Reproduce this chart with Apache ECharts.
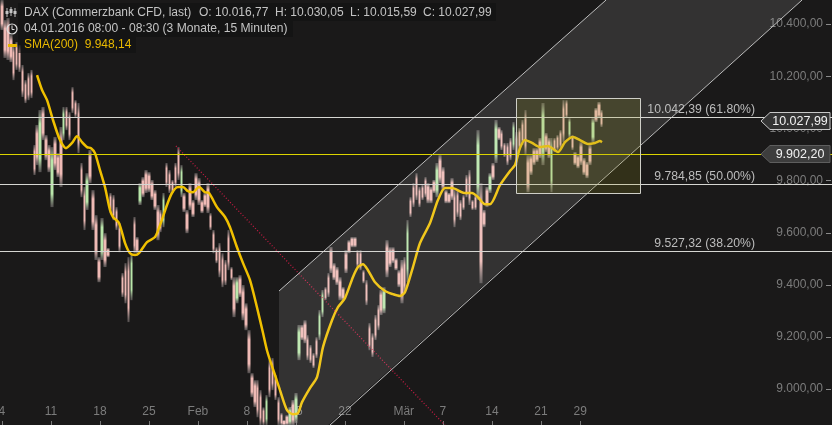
<!DOCTYPE html>
<html><head><meta charset="utf-8">
<script src="https://cdn.jsdelivr.net/npm/echarts@6/dist/echarts.min.js"></script>
<style>html,body{margin:0;padding:0;background:#1a1919}#c{width:832px;height:425px}</style>
</head><body><div id="c"></div>
<script>
// x axis is counted in trading days since 04.01.2016
const xTickDays = [0,5,10,15,20,25,30,35,41,45,50,55,59];
const xTickLabels = ['4','11','18','25','Feb','8','15','22','Mär','7','14','21','29'];
const yTickValues = [9000,9200,9400,9600,9800,10000,10200,10400];
const barStep = 0.3;
const barHigh = [10492,10415,10423,10358,10319,10331,10319,10243,10185,10212,10224,9936,10013,10070,10082,9974,9936,9928,9967,9905,10005,10082,10082,10062,10158,10108,10097,9867,9775,9828,9917,9763,9667,9506,9656,9598,9541,9752,9744,9698,9637,9445,9483,9506,9521,9660,9583,9790,9813,9840,9832,9802,9763,9706,9687,9752,9867,9840,9802,9867,9928,9859,9752,9687,9790,9725,9828,9809,9725,9752,9790,9675,9610,9544,9560,9521,9495,9610,9468,9429,9429,9437,9399,9329,9226,9061,9034,9034,8996,8930,8977,9111,9119,9054,8969,8908,8881,8900,8931,8958,8985,9246,9246,9264,9207,9169,9138,9199,9303,9380,9391,9445,9545,9483,9468,9429,9391,9533,9571,9583,9583,9533,9533,9456,9418,9253,9214,9284,9322,9380,9391,9571,9544,9544,9502,9456,9495,9506,9648,9736,9790,9828,9775,9783,9813,9790,9775,9802,9867,9897,9851,9763,9752,9809,9763,9763,9725,9744,9821,9840,9725,9744,9993,9790,9687,9775,9828,9867,10032,10005,9993,9944,9944,9963,10024,9986,10001,10032,10070,9897,9897,9924,9924,9963,10097,9982,9963,9963,9963,9974,9993,10108,10108,10039,9974,9909,9897,9947,9886,9871,9936,10039,10078,10101,10070];
const barLow = [10377,10270,10262,10254,10185,10224,10216,10120,10097,10108,10116,9821,9859,9832,9955,9878,9832,9698,9840,9813,9775,9955,9993,9955,10059,10043,9905,9736,9610,9687,9790,9610,9495,9410,9495,9468,9506,9675,9648,9610,9525,9353,9329,9257,9341,9521,9521,9706,9736,9752,9755,9725,9687,9571,9602,9621,9775,9752,9752,9775,9802,9736,9679,9598,9687,9660,9725,9706,9675,9698,9675,9610,9521,9483,9429,9391,9399,9456,9418,9276,9329,9353,9264,9226,9061,8969,8931,8892,8862,8862,8862,8969,8996,8958,8862,8862,8862,8862,8862,8862,8870,9111,9188,9176,9111,9100,9081,9119,9188,9276,9341,9353,9445,9418,9399,9341,9341,9445,9521,9544,9544,9468,9456,9406,9322,9149,9123,9188,9226,9284,9291,9429,9468,9483,9456,9391,9329,9368,9410,9660,9698,9725,9698,9725,9736,9713,9713,9752,9736,9790,9763,9713,9713,9725,9621,9660,9648,9687,9736,9706,9687,9687,9725,9406,9621,9698,9752,9802,9867,9955,9917,9890,9859,9878,9917,9859,9917,9936,9897,9755,9821,9859,9871,9886,9859,9909,9886,9755,9909,9917,9924,9947,10039,9963,9917,9859,9847,9859,9821,9809,9859,9947,10024,10039,10005];
const greenBars = [13,17,21,29,34,44,47,55,61,80,90,98,100,101,108,109,130,138,148,162,166,168,174,184,187,193,201];
const smaDays = [3.58,4.09,4.6,5.21,5.92,6.53,7.15,7.66,8.17,8.68,9.09,9.49,10,10.51,11.02,11.33,11.94,12.56,13.07,13.58,13.98,14.8,15.62,16.13,16.84,17.35,17.96,18.47,18.98,19.49,20.1,20.72,21.13,21.94,22.76,23.27,23.98,24.6,25.31,26.02,26.64,27.04,27.35,27.86,28.37,29.09,29.7,30.21,30.62,31.43,32.15,32.76,33.68,34.29,35,35.82,36.33,36.84,37.35,38.07,39.09,39.9,40.62,41.13,41.94,42.66,43.68,44.49,45.21,45.92,47.25,47.96,48.58,49.29,49.8,50.82,51.84,52.35,52.86,53.37,54.09,54.9,55.72,56.74,57.45,58.27,58.98,59.8,60.51,61.02,61.23];
const smaValues = [10204,10147,10108,10032,9955,9924,9944,9970,9947,9928,9924,9905,9840,9775,9687,9660,9637,9560,9521,9514,9521,9564,9583,9629,9706,9752,9775,9775,9759,9755,9775,9755,9752,9698,9660,9621,9544,9483,9418,9314,9215,9149,9111,9054,8996,8919,8904,8908,8950,9004,9046,9161,9264,9314,9349,9430,9468,9479,9456,9410,9376,9364,9357,9372,9468,9560,9637,9725,9771,9771,9752,9752,9736,9709,9709,9782,9836,9859,9924,9955,9944,9928,9932,9909,9947,9967,9955,9940,9944,9951,9947];
const fibValues = [10042.39,9784.85,9527.32];
const fibPercents = ['61.80%','50.00%','38.20%'];
const hLineYellow = 9902.20;
const lastPrice = 10027.99;
const channelDays = [28.27,61.64,81.64,28.27];
const channelPrices = [9376,10492,10492,8693];
const channelLowerEdgeDays = [81.64,33.47];
const channelLowerEdgePrices = [10492,8862];
const boxDays = [52.45,65.1];
const boxPrices = [9752,10116];
const trendDays = [17.76,45.2];
const trendPrices = [9932,8862];
const headerTitle = 'DAX (Commerzbank CFD, last)';
const headerOHLC = ['O: 10.016,77','H: 10.030,05','L: 10.015,59','C: 10.027,99'];
const headerDate = '04.01.2016 08:00 - 08:30 (3 Monate, 15 Minuten)';
const headerSma = 'SMA(200)  9.948,14';

const FONT = '"Liberation Sans", Arial, sans-serif';
const BG = '#1a1919';
const fmt = v => { const [a,b] = v.toFixed(2).split('.'); return a.replace(/\B(?=(\d{3})+$)/g,'.') + ',' + b; };
const barData = barHigh.map((h,i) => {
  const up = greenBars.includes(i);
  return [i*barStep, up?barLow[i]:h, up?h:barLow[i], barLow[i], h];
});
const LINE = '#d6d6d2';
const fade = c => new echarts.graphic.LinearGradient(0,0,0,1,[
  {offset:0,color:'rgba(130,124,124,0.55)'},{offset:0.22,color:c},{offset:0.78,color:c},{offset:1,color:'rgba(130,124,124,0.55)'}]);
const chart = echarts.init(document.getElementById('c'),null,{renderer:'canvas'});
const text = (x,y,t,fill,extra) => ({type:'text',x,y,z:50,silent:true,style:Object.assign({text:t,fill,font:'12px '+FONT,textVerticalAlign:'middle'},extra||{})});
const HDR = '#c4c4c4', SMAC = '#e9b900';
chart.setOption({
  animation:false,
  backgroundColor:BG,
  grid:{left:0,right:0,top:0,bottom:0,containLabel:false,outerBoundsMode:'none'},
  xAxis:{type:'value',min:-0.2,max:84.7,splitLine:{show:false},axisLine:{show:false},
    axisTick:{show:true,inside:true,length:4,lineStyle:{color:'#777'},customValues:xTickDays},
    axisLabel:{inside:true,margin:7,color:'#7c7c7c',fontFamily:FONT,fontSize:12,hideOverlap:false,customValues:xTickDays,
      formatter:v=>{const i=xTickDays.indexOf(v);return i<0?'':xTickLabels[i];}}},
  yAxis:{type:'value',position:'right',min:8862.3,max:10492.2,splitLine:{show:false},axisLine:{show:false},
    axisTick:{show:false},
    axisLabel:{inside:true,margin:9,color:'#7c7c7c',fontFamily:FONT,fontSize:12,hideOverlap:false,customValues:yTickValues,formatter:v=>fmt(v)}},
  graphic:[
    {type:'rect',z:40,silent:true,shape:{x:18,y:3,width:478,height:18},style:{fill:'rgba(16,16,16,0.6)'}},
    {type:'rect',z:40,silent:true,shape:{x:18,y:21,width:275,height:16},style:{fill:'rgba(16,16,16,0.6)'}},
    {type:'rect',z:40,silent:true,shape:{x:18,y:37,width:118,height:16},style:{fill:'rgba(16,16,16,0.6)'}},
    text(24,12.5,headerTitle,HDR), text(199,12.5,headerOHLC[0],HDR), text(275,12.5,headerOHLC[1],HDR), text(350,12.5,headerOHLC[2],HDR), text(423,12.5,headerOHLC[3],HDR),
    text(24,29,headerDate,HDR,{font:'12.1px '+FONT}), text(24,45,headerSma,SMAC),
    {type:'circle',z:50,silent:true,shape:{cx:12,cy:29,r:5},style:{fill:'none',stroke:'#dedede',lineWidth:1.2}},
    {type:'polyline',z:50,silent:true,shape:{points:[[12,25.5],[12,29.5],[14.5,29.5]]},style:{stroke:'#dedede',fill:'none',lineWidth:1}},
    {type:'rect',z:50,silent:true,shape:{x:8,y:44,width:9,height:3},style:{fill:SMAC}},
    {type:'group',z:50,silent:true,children:[[7,8,17,11,14],[11,7,16,9,13],[15,8,17,11,14]].map(a=>[
      {type:'line',z:50,shape:{x1:a[0],y1:a[1],x2:a[0],y2:a[2]},style:{stroke:HDR,lineWidth:1}},
      {type:'rect',z:50,shape:{x:a[0]-1.5,y:a[3],width:3,height:a[4]-a[3]},style:{fill:HDR}}
    ]).flat()}
  ],
  series:[
    {type:'custom',z:1,silent:true,data:yTickValues.map(v=>[v]),encode:{y:0},renderItem:(p,api)=>{
      const y=Math.round(api.coord([0,api.value(0)])[1])+0.5;
      return {type:'line',shape:{x1:826,y1:y,x2:831,y2:y},style:{stroke:'#8a8a8a',lineWidth:1}};
    }},
    {type:'candlestick',z:3,silent:true,barWidth:3,data:barData,encode:{x:0,y:[1,2,3,4]},
      itemStyle:{color:fade('#b9e6aa'),color0:fade('#efbab5'),borderColor:'#6e6a6a',borderColor0:'#6e6a6a',borderWidth:0}},
    {type:'line',z:4,silent:true,symbol:'none',smooth:0.25,lineStyle:{color:'#f0c000',width:2.5},data:smaDays.map((d,i)=>[d,smaValues[i]])},
    {type:'line',z:5,silent:true,symbol:'none',lineStyle:{color:'#c01c42',width:1.3,type:[1,2]},data:trendDays.map((d,i)=>[d,trendPrices[i]])},
    {type:'custom',z:6,silent:true,clip:true,data:[0],renderItem:(p,api)=>{
      const pts = channelDays.map((d,i)=>api.coord([d,channelPrices[i]]));
      return {type:'group',children:[
        {type:'polygon',shape:{points:pts},style:{fill:'rgba(255,255,255,0.11)'}},
        {type:'line',shape:{x1:pts[0][0],y1:pts[0][1],x2:pts[1][0],y2:pts[1][1]},style:{stroke:'#bdbdbd',lineWidth:1}}
      ]};
    }},
    {type:'line',z:6,silent:true,symbol:'none',lineStyle:{color:'#bdbdbd',width:1},data:channelLowerEdgeDays.map((d,i)=>[d,channelLowerEdgePrices[i]])},
    {type:'custom',z:7,silent:true,data:[[fibValues[0],0],[fibValues[1],0],[fibValues[2],0],[hLineYellow,1]],encode:{y:0},renderItem:(p,api)=>{
      const y=Math.round(api.coord([0,api.value(0)])[1]-0.1)+0.5;
      return {type:'line',shape:{x1:0,y1:y,x2:832,y2:y},style:{stroke:api.value(1)?'#dcd400':LINE,lineWidth:1}};
    }},
    {type:'custom',z:8,silent:true,data:[0],renderItem:(p,api)=>{
      const a=api.coord([boxDays[0],boxPrices[1]]), b=api.coord([boxDays[1],boxPrices[0]]);
      return {type:'rect',shape:{x:Math.round(a[0])+.5,y:Math.round(a[1])+.5,width:Math.round(b[0]-a[0]),height:Math.round(b[1]-a[1])},style:{fill:'rgba(160,155,25,0.18)',stroke:'#cfcfc8',lineWidth:1}};
    }},
    {type:'custom',z:9,silent:true,data:fibValues.map((v,i)=>[76.84,v,i]),encode:{x:0,y:1},renderItem:(p,api)=>{
      const c=api.coord([api.value(0),api.value(1)]), i=api.value(2);
      return {type:'text',x:c[0],y:c[1]-7.5,style:{text:fmt(fibValues[i])+' ('+fibPercents[i]+')',fill:'#bdbdbd',font:'12.25px '+FONT,textAlign:'right',textVerticalAlign:'middle'}};
    }},
    {type:'custom',z:10,silent:true,data:[[lastPrice,0],[hLineYellow,1]],encode:{y:0},renderItem:(p,api)=>{
      const v=api.value(0), k=api.value(1), y=api.coord([0,v])[1], top=Math.round(y)-8.5, bot=top+17;
      return {type:'group',children:[
        {type:'polygon',shape:{points:[[761,(top+bot)/2],[770,top],[830,top],[830,bot],[770,bot]]},style:{fill:k?'#3d3d3d':'#333333',stroke:k?'#5e5e5e':'#c8c8c8',lineWidth:1}},
        {type:'text',x:800,y:(top+bot)/2+.5,style:{text:fmt(v),fill:'#f2f2f2',font:'12.5px '+FONT,textAlign:'center',textVerticalAlign:'middle'}}
      ]};
    }}
  ]
});
</script></body></html>
